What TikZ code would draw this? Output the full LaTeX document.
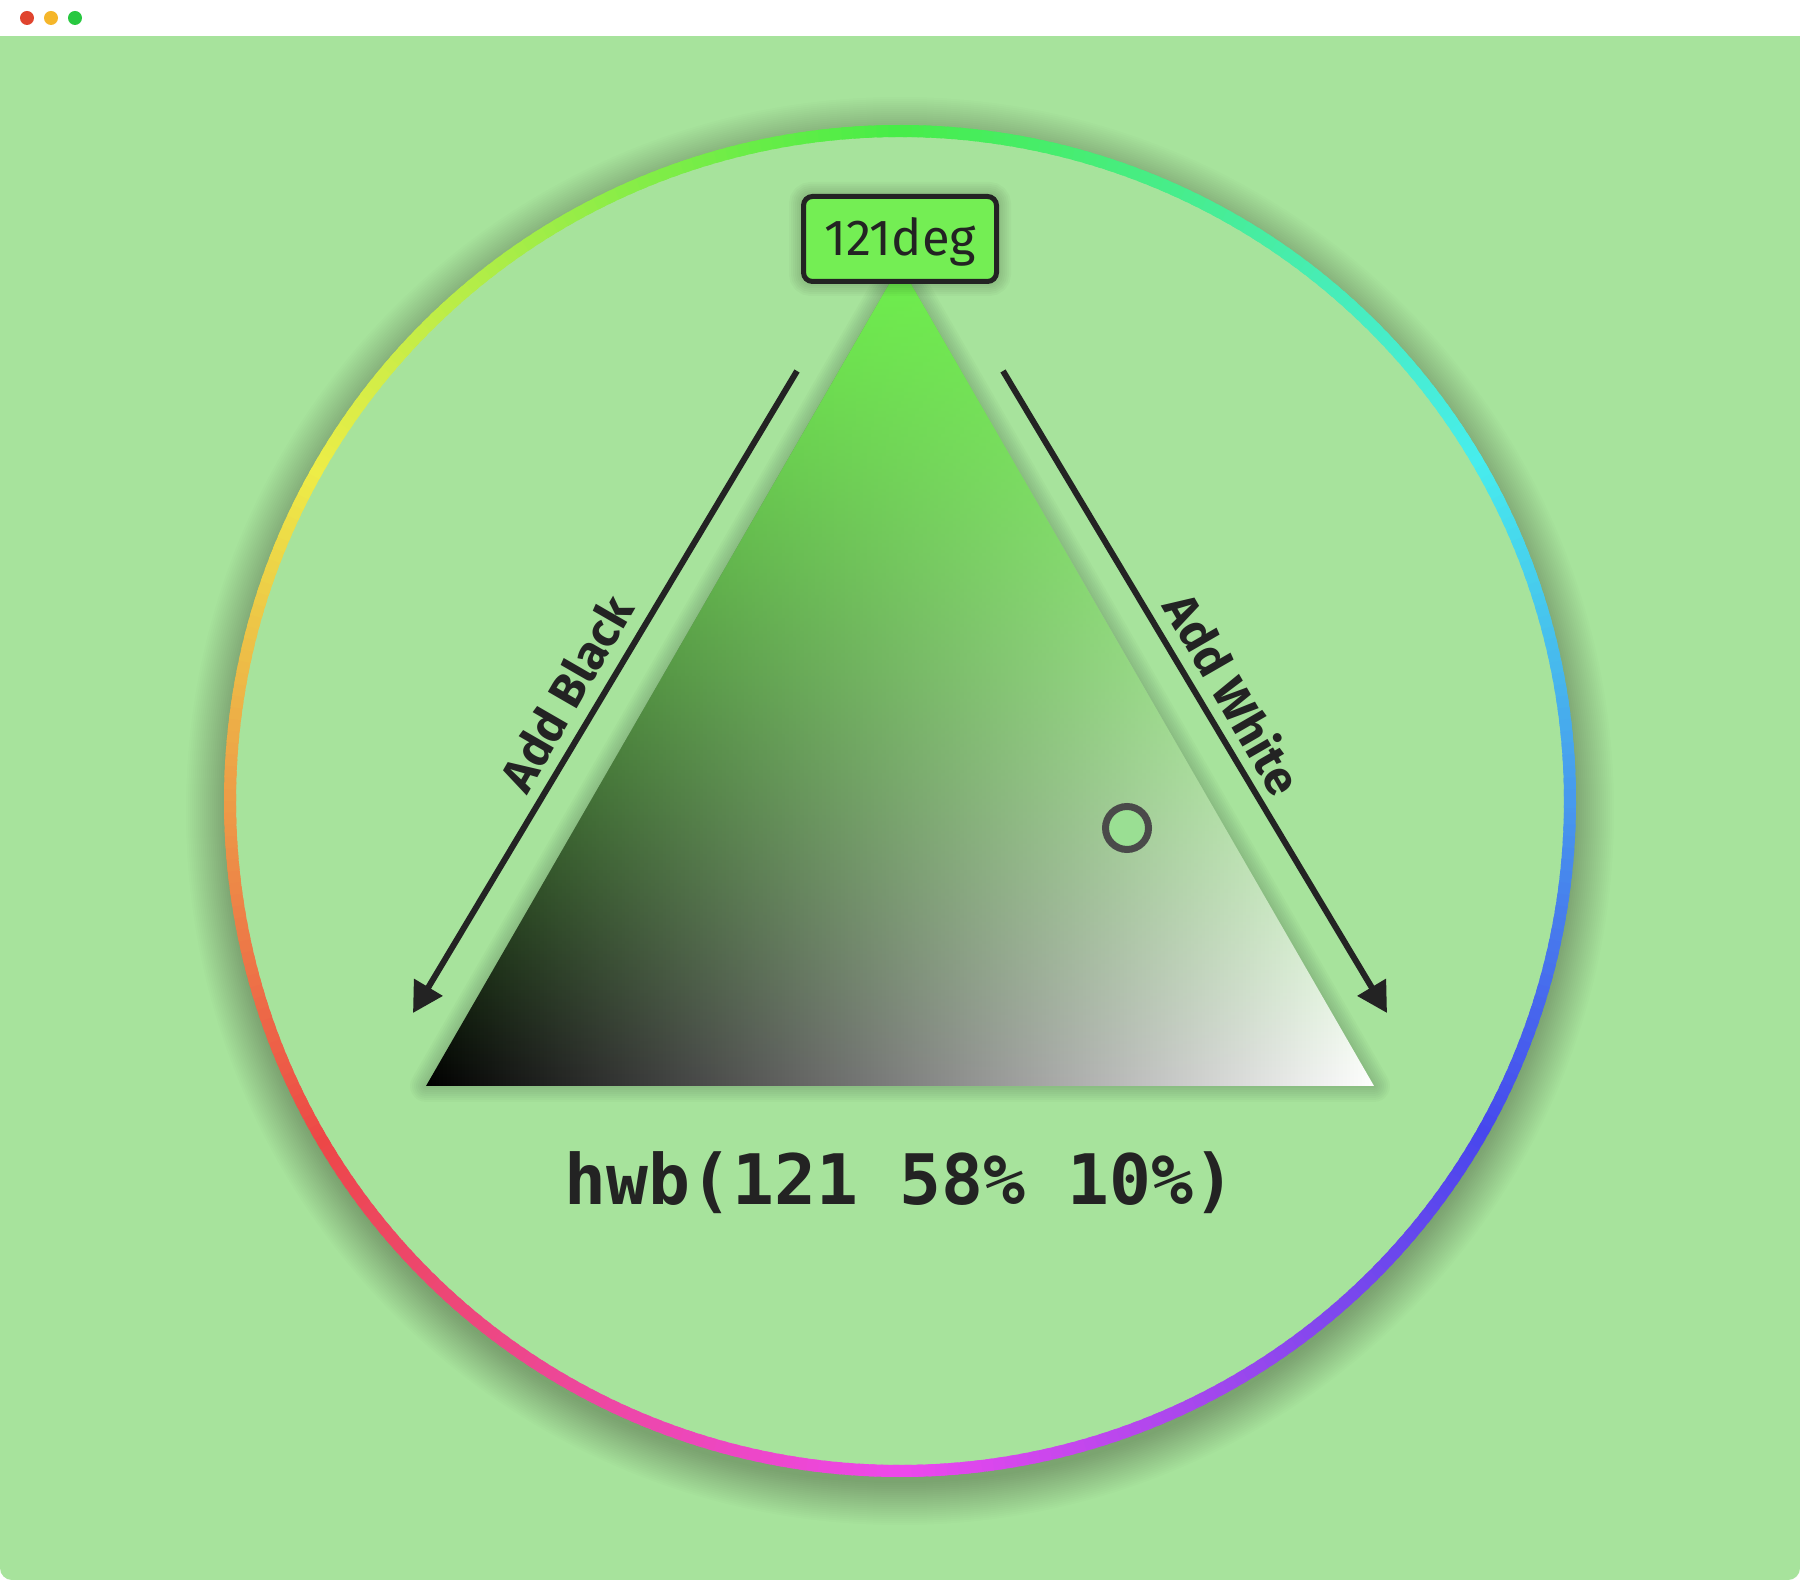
\documentclass[tikz,border=0pt]{standalone}
\usepackage{fontspec}
\usetikzlibrary{arrows.meta,fadings}
\newfontfamily\labelfont{Fira Sans}
\newfontfamily\codefont{DejaVu Sans Mono}
\newdimen\pxu \pxu=0.01cm
\definecolor{bgc}{HTML}{A7E39C}
\definecolor{ink}{HTML}{232323}
\definecolor{huec}{HTML}{6EF04C}
\definecolor{boxc}{HTML}{74EE54}
\definecolor{knobc}{HTML}{4A4A4A}
\definecolor{knobfill}{HTML}{9ADF93}
\definecolor{dotred}{HTML}{E0442E}
\definecolor{dotyellow}{HTML}{F5B62A}
\definecolor{dotgreen}{HTML}{28C840}
\tikzfading[name=huefade,top color=transparent!0,bottom color=transparent!100]
\begin{document}
\begin{tikzpicture}[x=0.01cm,y=-0.01cm]
\tikzstyle{arrowline}=[draw=ink,line width=6\pxu,-{Triangle[length=0.3cm,width=0.32cm]}]
\tikzstyle{sidelabel}=[text=ink,font=\labelfont\bfseries\fontsize{13.6}{16}\selectfont]
\tikzstyle{huebox}=[draw=ink,fill=boxc,line width=5\pxu,rounded corners=9\pxu,minimum width=193\pxu,minimum height=85\pxu,text height=34\pxu,text depth=0pt,text=ink,font=\labelfont\fontsize{14.4}{17}\selectfont]
\useasboundingbox (0,0) rectangle (1800,1580);
% window
\fill[white] (0,0) rectangle (1800,1580);
\fill[bgc,rounded corners=12\pxu] (0,20) rectangle (1800,1580);
\fill[white] (0,0) rectangle (1800,36);
\foreach \c/\x in {dotred/27,dotyellow/51,dotgreen/75}
  \fill[\c] (\x,18) circle (7);
% hue wheel with its shadow
\coordinate (cc) at (900,801);
\coordinate (sc) at (900,811);
\foreach \i in {1,...,22}
  \fill[black,opacity=0.011] (sc) circle (670+2*\i);
\fill[bgc] (cc) circle (670);
\foreach \a in {0,...,359}{
  \pgfmathtruncatemacro\hh{mod(211+\a,360)}
  \definecolor{ringc}{Hsb}{\hh,0.7,0.93}
  \draw[ringc,line width=12\pxu] ([shift={(\a:670)}]cc) arc[start angle=\a,end angle=\a+1.6,radius=670];
}
% triangle
\coordinate (tl) at (426,1086);
\coordinate (tr) at (1374,1086);
\coordinate (tt) at (900,265);
\foreach \w in {4,8,...,32}
  \draw[black,opacity=0.018,line width=\w\pxu,line join=round] (tl) -- (tr) -- (tt) -- cycle;
\shade[left color=black,right color=white] (tl) -- (tr) -- (tt) -- cycle;
\fill[huec,path fading=huefade] (tl) -- (tr) -- (tt) -- cycle;
% arrows
\coordinate (bs) at (797,371);
\coordinate (be) at (413,1013);
\coordinate (ws) at (1003,371);
\coordinate (we) at (1387,1013);
\draw[arrowline] (bs) -- (be);
\draw[arrowline] (ws) -- (we);
\node[sidelabel,rotate=60] (blk) at (566,693) {Add Black};
\node[sidelabel,rotate=-60] (wht) at (1234,693) {Add White};
% picked colour
\node[circle,draw=knobc,fill=knobfill,line width=7\pxu,minimum size=43\pxu,inner sep=0pt] (knob) at (1127,828) {};
\node[text=ink,anchor=base,font=\codefont\bfseries\fontsize{19.8}{24}\selectfont] (hwb) at (900,1205) {hwb(121 58\% 10\%)};
% hue label
\foreach \w in {4,8,...,24}
  \draw[black,opacity=0.025,line width=\w\pxu,rounded corners=10\pxu] (801,194) rectangle (999,284);
\node[huebox] (hue) at (900,239) {121deg};
\end{tikzpicture}
\end{document}
